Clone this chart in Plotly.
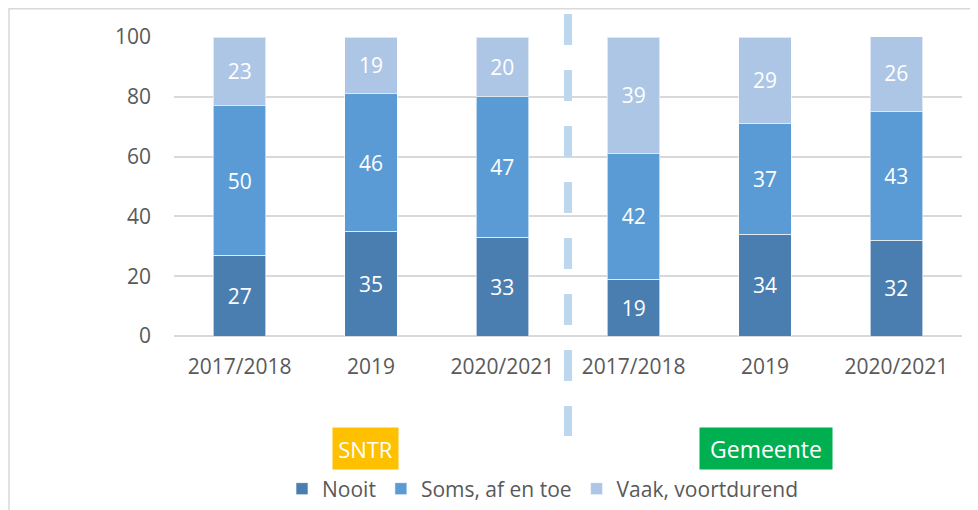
import plotly.graph_objects as go

categories = ["2017/2018", "2019", "2020/2021", "2017/2018", "2019", "2020/2021"]
nooit = [27, 35, 33, 19, 34, 32]
soms = [50, 46, 47, 42, 37, 43]
vaak = [23, 19, 20, 39, 29, 26]
series_names = ["Nooit", "Soms, af en toe", "Vaak, voortdurend"]
series_colors = ["#4A7EB1", "#5B9BD5", "#ADC6E6"]
group_labels = ["SNTR", "Gemeente"]

FONT = "Open Sans"
xpos = list(range(len(categories)))

fig = go.Figure()
for name, vals, col in zip(series_names, [nooit, soms, vaak], series_colors):
    fig.add_trace(go.Bar(
        x=xpos, y=vals, name=name,
        marker=dict(color=col, line=dict(color="rgba(255,255,255,0.6)", width=1)),
        text=[str(v) for v in vals], textposition="inside",
        insidetextanchor="middle",
        textfont=dict(color="white", size=21, family=FONT),
        width=0.4,
    ))

W, H = 978, 510
OFF = 8  # page body margin
SX0, SX1, SY0, SY1 = 174, 962, 37, 336
L = SX0 - OFF
T = SY0 - OFF
R = W - (SX1 - OFF)
B = H - (SY1 - OFF)
pw, ph = SX1 - SX0, SY1 - SY0

def px_to_paper_x(px):
    return (px - SX0) / pw

def px_to_paper_y(py):
    return (SY1 - py) / ph

shapes = [
    dict(type="rect", xref="paper", yref="paper",
         x0=px_to_paper_x(9), x1=px_to_paper_x(1000),
         y0=px_to_paper_y(540), y1=px_to_paper_y(8.8),
         line=dict(color="#D9D9D9", width=1.5), fillcolor="rgba(0,0,0,0)", layer="below"),
    dict(type="line", xref="x", yref="paper",
         x0=2.5, x1=2.5, y0=px_to_paper_y(14), y1=px_to_paper_y(436),
         line=dict(color="#BDD7EE", width=8, dash="31px,25px")),
]

annotations = [
    dict(text=group_labels[0], xref="paper", yref="paper",
         x=px_to_paper_x(365.5), y=px_to_paper_y(448.5), showarrow=False,
         font=dict(color="white", size=22, family=FONT),
         bgcolor="#FFC000", borderpad=6, width=53, height=29,
         xanchor="center", yanchor="middle"),
    dict(text=group_labels[1], xref="paper", yref="paper",
         x=px_to_paper_x(766), y=px_to_paper_y(448.5), showarrow=False,
         font=dict(color="white", size=23, family=FONT),
         bgcolor="#00B050", borderpad=6, width=120, height=29,
         xanchor="center", yanchor="middle"),
]

fig.update_layout(
    width=W, height=H,
    margin=dict(l=L, r=R, t=T, b=B, autoexpand=False),
    barmode="stack",
    plot_bgcolor="white", paper_bgcolor="white",
    font=dict(family=FONT, color="#595959", size=21),
    xaxis=dict(tickvals=xpos, ticktext=categories, range=[-0.5, 5.5],
               showgrid=False, showline=False, ticks="", ticklen=0,
               ticklabelstandoff=16,
               tickfont=dict(size=21, color="#595959")),
    yaxis=dict(range=[0, 100], tickvals=[0, 20, 40, 60, 80, 100],
               showgrid=True, gridcolor="#D9D9D9", gridwidth=1.5,
               zeroline=True, zerolinecolor="#D9D9D9", zerolinewidth=1.5,
               ticks="", ticklabelstandoff=22,
               tickfont=dict(size=21, color="#595959")),
    legend=dict(orientation="h", x=px_to_paper_x(543), xanchor="center",
                y=px_to_paper_y(489), yanchor="middle",
                font=dict(size=21, color="#595959", family=FONT),
                traceorder="normal", itemclick=False, itemwidth=30),
    shapes=shapes,
    annotations=annotations,
    uniformtext=dict(minsize=21, mode="show"),
)

fig.write_html("out.html")
